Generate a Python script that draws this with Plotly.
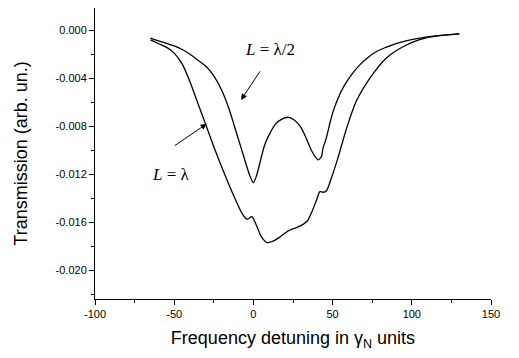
import plotly.graph_objects as go

# Curve L = lambda/2
x_half = [-65, -60, -55, -50, -45, -40, -35, -30, -25, -20, -15, -12, -8, -5, -2, 0, 2, 4, 7, 10, 14, 18, 22,
          26, 30, 34, 37, 40, 41, 43, 44, 46, 48, 50, 53, 57, 62, 67, 72, 78, 84, 90, 97, 105, 115, 130]
y_half = [-0.00065, -0.00088, -0.00108, -0.0013, -0.0016, -0.0020, -0.0025, -0.0030, -0.0038, -0.0050,
          -0.0067, -0.0080, -0.0097, -0.0110, -0.0122, -0.0127, -0.0121, -0.0111, -0.0096, -0.0087, -0.0078,
          -0.0074, -0.00725, -0.0075, -0.0081, -0.0092, -0.0101, -0.0107, -0.0108, -0.0105, -0.0098, -0.0090,
          -0.0079, -0.0069, -0.0058, -0.0047, -0.0037, -0.0029, -0.0023, -0.00175, -0.0014, -0.0011,
          -0.00085, -0.00065, -0.00047, -0.0003]

# Curve L = lambda
x_full = [-65, -60, -55, -50, -45, -40, -35, -30, -25, -20, -15, -10, -7, -4, -1, 2, 5, 8.6, 12, 16, 22,
          26, 30, 34, 37, 40, 42, 44, 46, 49, 53, 59, 65, 74, 84, 95, 105, 117, 130]
y_full = [-0.0008, -0.0011, -0.0014, -0.0019, -0.0028, -0.0043, -0.0061, -0.0079, -0.0097, -0.0114, -0.0130,
          -0.0145, -0.0153, -0.01575, -0.01553, -0.0163, -0.0172, -0.0177, -0.0176, -0.0173, -0.01672,
          -0.0165, -0.01628, -0.0159, -0.0151, -0.0141, -0.01345, -0.0135, -0.0134, -0.0124, -0.0108,
          -0.0081, -0.0059, -0.0039, -0.0023, -0.00133, -0.00078, -0.00045, -0.0003]

x_ticks = [-100, -50, 0, 50, 100, 150]
x_tick_text = ["-100", "-50", "0", "50", "100", "150"]
x_minor = [-75, -25, 25, 75, 125]
y_ticks = [0.0, -0.004, -0.008, -0.012, -0.016, -0.020]
y_tick_text = ["0.000", "-0.004", "-0.008", "-0.012", "-0.016", "-0.020"]
y_minor = [-0.002, -0.006, -0.010, -0.014, -0.018, -0.022]

labels = ["<i>L</i> = λ/2", "<i>L</i> = λ"]
label_x = [10.5, -52]
label_y = [-0.00164, -0.0120]
arrow_head_x = [-7.8, -29.5]
arrow_head_y = [-0.0058, -0.0078]
arrow_tail_x = [4.8, -50.6]
arrow_tail_y = [-0.0033, -0.0097]

fig = go.Figure()
for xs, ys in [(x_half, y_half), (x_full, y_full)]:
    fig.add_trace(go.Scatter(x=xs, y=ys, mode="lines",
                             line=dict(color="black", width=1.3, shape="spline", smoothing=0.8),
                             showlegend=False, hoverinfo="skip"))

for i in range(len(labels)):
    fig.add_annotation(x=label_x[i], y=label_y[i], text=labels[i], showarrow=False,
                       font=dict(family="Liberation Serif, Times New Roman, serif", size=17, color="black"))
    fig.add_annotation(x=arrow_head_x[i], y=arrow_head_y[i], ax=arrow_tail_x[i], ay=arrow_tail_y[i],
                       axref="x", ayref="y", text="", showarrow=True,
                       arrowhead=2, arrowsize=1.2, arrowwidth=1, arrowcolor="black")

axis_font = dict(family="Liberation Sans, Arial, sans-serif", size=11, color="black")
fig.update_layout(
    width=511, height=350,
    margin=dict(l=87, r=28, t=0, b=59),
    paper_bgcolor="white", plot_bgcolor="white",
    font=dict(family="Liberation Sans, Arial, sans-serif", color="black"),
    xaxis=dict(range=[-100, 150], tickmode="array", tickvals=x_ticks, ticktext=x_tick_text,
               ticks="outside", ticklen=5, tickwidth=1, tickcolor="black",
               minor=dict(tickmode="array", tickvals=x_minor, ticks="outside", ticklen=3, tickcolor="black"),
               showline=True, linecolor="black", linewidth=1, showgrid=False, zeroline=False,
               tickfont=axis_font,
               title=dict(text="Frequency detuning in γ<sub>N</sub> units",
                          font=dict(size=18, family="Liberation Sans, Arial, sans-serif"), standoff=12)),
    yaxis=dict(range=[-0.0224, 0.00186], tickmode="array", tickvals=y_ticks, ticktext=y_tick_text,
               ticks="outside", ticklen=5, tickwidth=1, tickcolor="black",
               minor=dict(tickmode="array", tickvals=y_minor, ticks="outside", ticklen=3, tickcolor="black"),
               showline=True, linecolor="black", linewidth=1, showgrid=False, zeroline=False,
               tickfont=axis_font,
               title=dict(text="Transmission (arb. un.)",
                          font=dict(size=18, family="Liberation Sans, Arial, sans-serif"), standoff=23)),
)

fig.write_html("out.html")
